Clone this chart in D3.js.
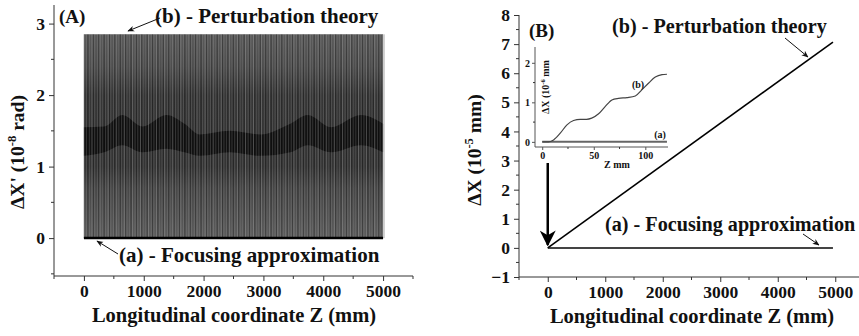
<!DOCTYPE html>
<html>
<head>
    <script src="https://d3js.org/d3.v7.min.js"></script>
    <style>
        body {
            margin: 0;
            background-color: white;
        }

        svg text {
            font-family: "Liberation Serif", "Times New Roman", serif;
            font-weight: bold;
            fill: #111;
        }

        .axis path,
        .axis line {
            stroke: #333;
            stroke-width: 1;
        }
    </style>
</head>
<body>
    <div id="graph"></div>
    <script>
        // shared x ticks (mm)
        const zTicks = [0, 1000, 2000, 3000, 4000, 5000]

        // panel A - envelope of the fast oscillation of dX' (1e-8 rad)
        const bandZ = [0, 5000]
        const bandTop = [2.85, 2.85]
        const bandBottom = [0, 0]
        // darker core ribbon inside the band
        const coreZ = [0, 340, 640, 980, 1380, 1680, 1940, 2440, 2950, 3450, 3740, 4130, 4630, 5000]
        const coreHi = [1.55, 1.56, 1.72, 1.56, 1.72, 1.6, 1.45, 1.5, 1.45, 1.6, 1.72, 1.55, 1.72, 1.6]
        const coreLo = [1.15, 1.2, 1.3, 1.2, 1.25, 1.2, 1.15, 1.2, 1.15, 1.2, 1.3, 1.2, 1.3, 1.2]
        const oscPeriod = 45 // mm, from the inset steps
        const focAZ = [0, 5000]
        const focAX = [0, 0]
        const yTicksA = [0, 1, 2, 3]

        // panel B - dX (1e-5 mm)
        const pertZ = [0, 4960]
        const pertX = [0, 7.07]
        const focZ = [0, 4960]
        const focX = [0, 0]
        const yTicksB = [-1, 0, 1, 2, 3, 4, 5, 6, 7, 8]

        // inset - dX (1e-6 mm) over the first 120 mm
        const insetZ = [0, 6, 11, 17.5, 24, 30.4, 36.9, 43, 48, 54.7, 61, 67.6, 74, 82.2, 90.3, 96.8, 103.3, 109.7, 116.2, 121]
        const insetB = [0, 0, 0.05, 0.22, 0.43, 0.54, 0.57, 0.57, 0.6, 0.71, 0.89, 1.06, 1.1, 1.12, 1.16, 1.32, 1.49, 1.64, 1.7, 1.71]
        const insetAZ = [0, 121]
        const insetA = [0, 0]
        const insetXTicks = [0, 50, 100]
        const insetYTicks = [0, 1, 2]

        const W = 859, H = 336
        const svg = d3.select('#graph').append('svg')
            .attr('width', W)
            .attr('height', H)

        const defs = svg.append('defs')
        defs.append('marker')
            .attr('id', 'head')
            .attr('viewBox', '0 0 10 10')
            .attr('refX', 9).attr('refY', 5)
            .attr('markerWidth', 7).attr('markerHeight', 7)
            .attr('markerUnits', 'userSpaceOnUse')
            .attr('orient', 'auto')
            .append('path')
            .attr('d', 'M0,1 L10,5 L0,9 L3,5 Z')
            .attr('fill', '#111')
        defs.append('marker')
            .attr('id', 'bighead')
            .attr('viewBox', '0 0 10 10')
            .attr('refX', 9).attr('refY', 5)
            .attr('markerWidth', 16).attr('markerHeight', 16)
            .attr('markerUnits', 'userSpaceOnUse')
            .attr('orient', 'auto')
            .append('path')
            .attr('d', 'M0,0 L10,5 L0,10 L3,5 Z')
            .attr('fill', '#000')

        function drawAxes(g, x, y, xt, yt, opt) {
            const xAxis = d3.axisBottom(x).tickValues(xt).tickSize(opt.tick).tickPadding(opt.pad).tickFormat(d3.format('d'))
            const yAxis = d3.axisLeft(y).tickValues(yt).tickSize(opt.tick).tickPadding(opt.pad).tickFormat(d3.format('d'))
            const gx = g.append('g').attr('class', 'axis')
                .attr('transform', `translate(0, ${y.range()[0]})`)
                .call(xAxis)
            const gy = g.append('g').attr('class', 'axis')
                .attr('transform', `translate(${x.range()[0]}, 0)`)
                .call(yAxis)
            gx.select('.domain').attr('d', `M${x.range()[0]},0H${x.range()[1]}`)
            gy.select('.domain').attr('d', `M0,${y.range()[0]}V${y.range()[1]}`)
            gx.selectAll('text').style('font-size', opt.font + 'px')
            gy.selectAll('text').style('font-size', opt.font + 'px')
            // minor ticks
            g.append('g').selectAll('line').data(opt.xMinor).join('line')
                .attr('x1', d => x(d)).attr('x2', d => x(d))
                .attr('y1', y.range()[0]).attr('y2', y.range()[0] + opt.minor)
                .attr('stroke', '#333')
            g.append('g').selectAll('line').data(opt.yMinor).join('line')
                .attr('y1', d => y(d)).attr('y2', d => y(d))
                .attr('x1', x.range()[0]).attr('x2', x.range()[0] - opt.minor)
                .attr('stroke', '#333')
        }

        function yTitle(g, cx, cy, main, sup, tail, size) {
            const t = g.append('text')
                .attr('transform', `translate(${cx},${cy}) rotate(-90)`)
                .attr('text-anchor', 'middle')
                .style('font-size', size + 'px')
            t.append('tspan').text(main)
            t.append('tspan').attr('dy', -size * 0.4).style('font-size', (size * 0.65) + 'px').text(sup)
            t.append('tspan').attr('dy', size * 0.4).text(tail)
        }

        const majorMinor = [-500, 500, 1500, 2500, 3500, 4500, 5500]

        // ---------------- panel A ----------------
        const gA = svg.append('g')
        const xA = d3.scaleLinear().domain([-500, 5500]).range([54, 413])
        const yA = d3.scaleLinear().domain([-0.53, 3.26]).range([276, 5])

        const grad = defs.append('linearGradient')
            .attr('id', 'bandGrad')
            .attr('gradientUnits', 'userSpaceOnUse')
            .attr('x1', 0).attr('x2', 0)
            .attr('y1', yA(bandTop[0])).attr('y2', yA(bandBottom[0]))
        const stops = [[2.85, '#5a5a5a'], [2.4, '#4e4e4e'], [2.0, '#363636'], [1.0, '#343434'], [0.7, '#474747'], [0, '#5c5c5c']]
        stops.forEach(s => {
            grad.append('stop')
                .attr('offset', (yA(s[0]) - yA(2.85)) / (yA(0) - yA(2.85)))
                .attr('stop-color', s[1])
        })

        const band = bandZ.map((z, i) => ({ z, top: bandTop[i], bot: bandBottom[i] }))
        gA.append('path')
            .datum(band)
            .attr('fill', 'url(#bandGrad)')
            .attr('d', d3.area().x(d => xA(d.z)).y0(d => yA(d.bot)).y1(d => yA(d.top)))

        const core = coreZ.map((z, i) => ({ z, hi: coreHi[i], lo: coreLo[i] }))
        gA.append('path')
            .datum(core)
            .attr('fill', '#0a0a0a')
            .attr('opacity', 0.8)
            .attr('d', d3.area().curve(d3.curveMonotoneX).x(d => xA(d.z)).y0(d => yA(d.lo)).y1(d => yA(d.hi)))

        // vertical streaks, one per oscillation period
        const streaks = d3.range(0, 5000 + 1, oscPeriod)
        gA.append('g').selectAll('line').data(streaks).join('line')
            .attr('x1', d => xA(d)).attr('x2', d => xA(d))
            .attr('y1', yA(bandTop[0])).attr('y2', yA(bandBottom[0]))
            .attr('stroke', '#a8a8a8')
            .attr('stroke-width', 0.7)
            .attr('opacity', (d, i) => i % 3 === 0 ? 0.6 : 0.35)
        gA.append('g').selectAll('line').data(streaks.filter((d, i) => i % 2 === 1)).join('line')
            .attr('x1', d => xA(d + oscPeriod / 2)).attr('x2', d => xA(d + oscPeriod / 2))
            .attr('y1', yA(bandTop[0])).attr('y2', yA(bandBottom[0]))
            .attr('stroke', '#000')
            .attr('stroke-width', 0.8)
            .attr('opacity', 0.35)

        gA.append('path')
            .datum(focAZ.map((z, i) => [z, focAX[i]]))
            .attr('fill', 'none')
            .attr('stroke', '#000')
            .attr('stroke-width', 2.5)
            .attr('d', d3.line().x(d => xA(d[0])).y(d => yA(d[1])))

        drawAxes(gA, xA, yA, zTicks, yTicksA, {
            tick: 5, minor: 3, pad: 4, font: 17.5,
            xMinor: majorMinor, yMinor: [-0.5, 0.5, 1.5, 2.5]
        })

        gA.append('text').attr('x', 59).attr('y', 23).style('font-size', '19px').text('(A)')
        gA.append('text').attr('x', 155).attr('y', 23).style('font-size', '21px').text('(b) - Perturbation theory')
        gA.append('line')
            .attr('x1', 160).attr('y1', 18).attr('x2', 128).attr('y2', 31)
            .attr('stroke', '#111').attr('stroke-width', 1)
            .attr('marker-end', 'url(#head)')
        gA.append('text').attr('x', 119).attr('y', 262).style('font-size', '21px').text('(a) - Focusing approximation')
        gA.append('line')
            .attr('x1', 118).attr('y1', 254).attr('x2', 97).attr('y2', 241)
            .attr('stroke', '#111').attr('stroke-width', 1)
            .attr('marker-end', 'url(#head)')

        gA.append('text').attr('x', 234).attr('y', 322).attr('text-anchor', 'middle')
            .style('font-size', '20.5px').text('Longitudinal coordinate Z (mm)')
        yTitle(gA, 24, 152, 'ΔX\' (10', '-8', ' rad)', 19.5)

        // ---------------- panel B ----------------
        const gB = svg.append('g')
        const xB = d3.scaleLinear().domain([-500, 5500]).range([519, 864])
        const yB = d3.scaleLinear().domain([-1, 8]).range([277, 15])

        drawAxes(gB, xB, yB, zTicks, yTicksB, {
            tick: 5, minor: 3, pad: 4, font: 17.5,
            xMinor: majorMinor, yMinor: d3.range(-0.5, 8, 1)
        })

        gB.append('path')
            .datum(focZ.map((z, i) => [z, focX[i]]))
            .attr('fill', 'none')
            .attr('stroke', '#444')
            .attr('stroke-width', 2)
            .attr('d', d3.line().x(d => xB(d[0])).y(d => yB(d[1])))
        gB.append('path')
            .datum(pertZ.map((z, i) => [z, pertX[i]]))
            .attr('fill', 'none')
            .attr('stroke', '#000')
            .attr('stroke-width', 1.6)
            .attr('d', d3.line().x(d => xB(d[0])).y(d => yB(d[1])))

        gB.append('line')
            .attr('x1', xB(0)).attr('y1', 163).attr('x2', xB(0)).attr('y2', yB(0) - 3)
            .attr('stroke', '#000').attr('stroke-width', 2.5)
            .attr('marker-end', 'url(#bighead)')

        gB.append('text').attr('x', 529).attr('y', 37).style('font-size', '19px').text('(B)')
        gB.append('text').attr('x', 612).attr('y', 33).style('font-size', '20.2px').text('(b) - Perturbation theory')
        gB.append('line')
            .attr('x1', 785).attr('y1', 38).attr('x2', 808).attr('y2', 57)
            .attr('stroke', '#111').attr('stroke-width', 1)
            .attr('marker-end', 'url(#head)')
        gB.append('text').attr('x', 605).attr('y', 231).style('font-size', '20.2px').text('(a) - Focusing approximation')
        gB.append('line')
            .attr('x1', 803).attr('y1', 234).attr('x2', 819).attr('y2', 245)
            .attr('stroke', '#111').attr('stroke-width', 1)
            .attr('marker-end', 'url(#head)')

        gB.append('text').attr('x', 692).attr('y', 323).attr('text-anchor', 'middle')
            .style('font-size', '20.5px').text('Longitudinal coordinate Z (mm)')
        yTitle(gB, 481, 150, 'ΔX (10', '-5', ' mm)', 19.5)

        // ---------------- inset ----------------
        const gI = svg.append('g')
        const xI = d3.scaleLinear().domain([-7, 122]).range([535, 668])
        const yI = d3.scaleLinear().domain([-0.13, 2.4]).range([147, 47])

        gI.append('path')
            .datum(insetAZ.map((z, i) => [z, insetA[i]]))
            .attr('fill', 'none')
            .attr('stroke', '#666')
            .attr('stroke-width', 2)
            .attr('d', d3.line().x(d => xI(d[0])).y(d => yI(d[1])))
        gI.append('path')
            .datum(insetZ.map((z, i) => [z, insetB[i]]))
            .attr('fill', 'none')
            .attr('stroke', '#444')
            .attr('stroke-width', 1.2)
            .attr('d', d3.line().curve(d3.curveMonotoneX).x(d => xI(d[0])).y(d => yI(d[1])))

        drawAxes(gI, xI, yI, insetXTicks, insetYTicks, {
            tick: 3, minor: 2, pad: 2, font: 10,
            xMinor: [25, 75], yMinor: [0.5, 1.5]
        })
        gI.selectAll('.axis path, .axis line').style('stroke', '#555')

        gI.append('text').attr('x', 617).attr('y', 168).attr('text-anchor', 'middle')
            .style('font-size', '10px').text('Z mm')
        gI.append('text').attr('x', 638).attr('y', 88).attr('text-anchor', 'middle')
            .style('font-size', '10px').text('(b)')
        gI.append('text').attr('x', 660).attr('y', 138).attr('text-anchor', 'middle')
            .style('font-size', '10px').text('(a)')
        yTitle(gI, 549, 87, 'ΔX (10', '-6', ' mm', 10)
    </script>
</body>
</html>
